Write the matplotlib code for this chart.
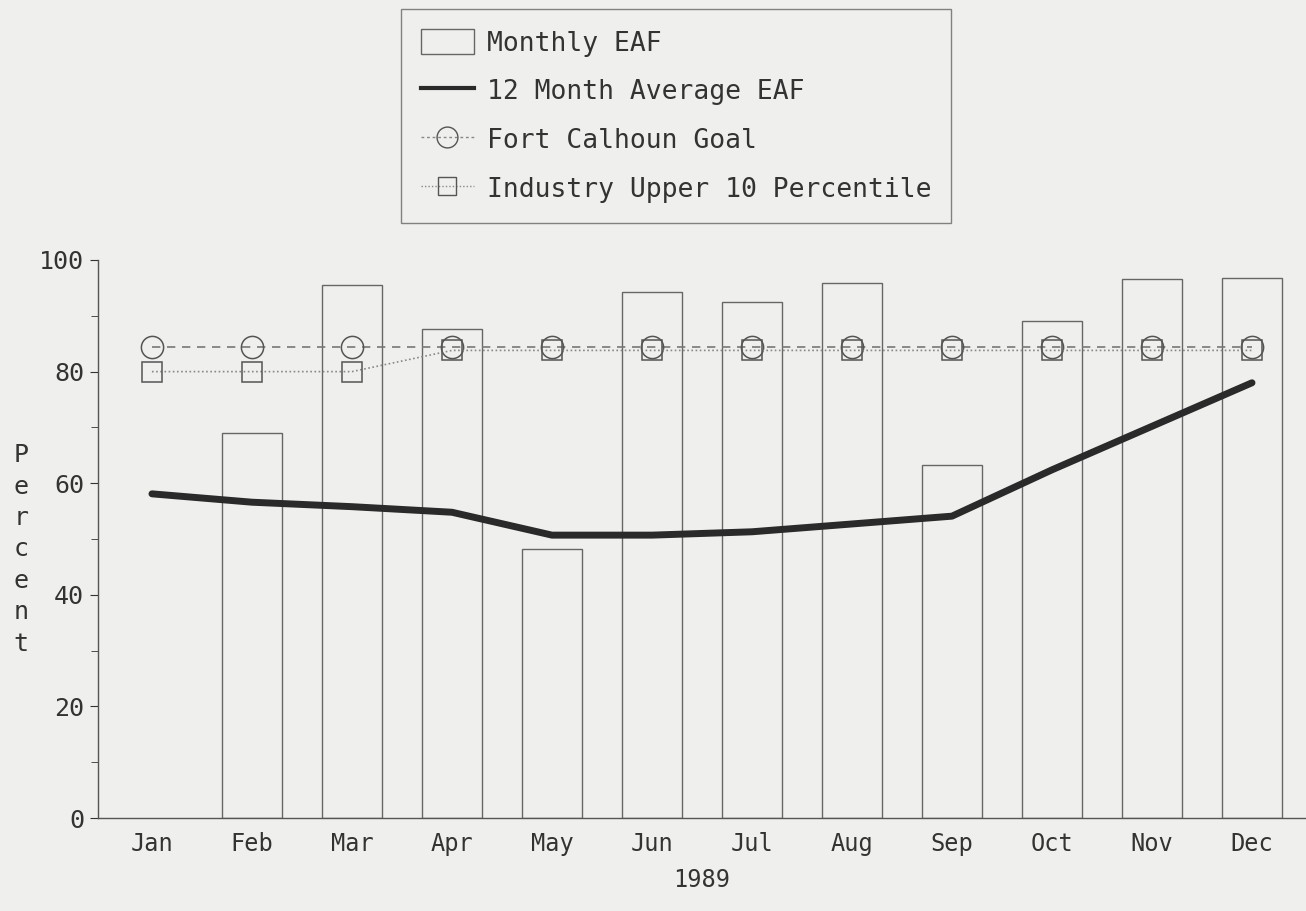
import numpy as np
import matplotlib.pyplot as plt
from matplotlib.patches import Patch
from matplotlib.lines import Line2D

months = ['Jan', 'Feb', 'Mar', 'Apr', 'May', 'Jun',
          'Jul', 'Aug', 'Sep', 'Oct', 'Nov', 'Dec']
monthly_eaf = [np.nan, 69.0, 95.5, 87.6, 48.2, 94.3, 92.5, 95.9, 63.3, 89.1, 96.6, 96.8]
avg_12mo = [58.1, 56.6, 55.8, 54.8, 50.7, 50.7, 51.3, 52.7, 54.1, 62.4, 70.2, 78.0]
fcs_goal = [84.5] * 12
industry_top10 = [80, 80, 80, 83.8, 83.8, 83.8, 83.8, 83.8, 83.8, 83.8, 83.8, 83.8]

plt.rcParams['font.family'] = ['DejaVu Sans Mono']
bg = '#efefed'
ink = '#333333'

fig = plt.figure(figsize=(13.06, 9.11), dpi=100, facecolor=bg)
ax = fig.add_axes([0.075, 0.102, 0.925, 0.6126], facecolor=bg)

x = np.arange(len(months))
ax.bar(x, monthly_eaf, width=0.6, facecolor='none', edgecolor='#666666', linewidth=1.0, zorder=2)
ax.plot(x, avg_12mo, color='#2a2a2a', linewidth=5, zorder=4, solid_capstyle='round')
ax.plot(x, fcs_goal, color='#777777', linestyle=(0, (5, 4)), linewidth=1.2,
        marker='o', markersize=16, markerfacecolor='none', markeredgecolor='#555555',
        markeredgewidth=1.1, zorder=3)
ax.plot(x, industry_top10, color='#888888', linestyle=(0, (1, 1.5)), linewidth=1.2,
        marker='s', markersize=14, markerfacecolor='none', markeredgecolor='#555555',
        markeredgewidth=1.1, zorder=3)

ax.set_xlim(-0.54, 11.54)
ax.set_ylim(0, 100)
ax.set_xticks(x)
ax.set_xticklabels(months, fontsize=17, color=ink)
ax.set_yticks(np.arange(0, 101, 20))
ax.set_yticks(np.arange(10, 100, 20), minor=True)
ax.tick_params(axis='y', labelsize=18, colors=ink, length=6, pad=4)
ax.tick_params(axis='y', which='minor', length=5, color=ink)
ax.tick_params(axis='x', length=0, pad=10)
for s in ['top', 'right']:
    ax.spines[s].set_visible(False)
for s in ['left', 'bottom']:
    ax.spines[s].set_color('#555555')
    ax.spines[s].set_linewidth(1.0)
ax.set_xlabel('1989', fontsize=17, color=ink, labelpad=9)

fig.text(0.016, 0.397, '\n'.join('Percent'), fontsize=18, color=ink,
         ha='center', va='center', linespacing=1.39)

handles = [
    Patch(facecolor='none', edgecolor='#666666', linewidth=1.0),
    Line2D([], [], color='#2a2a2a', linewidth=3),
    Line2D([], [], color='#888888', linestyle=(0, (2, 2)), linewidth=1,
           marker='o', markersize=15, markerfacecolor='none', markeredgecolor='#555555'),
    Line2D([], [], color='#888888', linestyle=(0, (1, 1.5)), linewidth=1,
           marker='s', markersize=13, markerfacecolor='none', markeredgecolor='#555555'),
]
labels = ['Monthly EAF', '12 Month Average EAF', 'Fort Calhoun Goal',
          'Industry Upper 10 Percentile']
leg = fig.legend(handles, labels, loc='upper left', bbox_to_anchor=(0.307, 0.99),
                 fontsize=19, frameon=True, fancybox=False, edgecolor='#666666',
                 facecolor=bg, handlelength=2.0, handleheight=1.1, handletextpad=0.5,
                 labelspacing=0.8, borderpad=0.75, borderaxespad=0)
for t in leg.get_texts():
    t.set_color(ink)

fig.savefig('out.png', dpi=100, facecolor=bg)
